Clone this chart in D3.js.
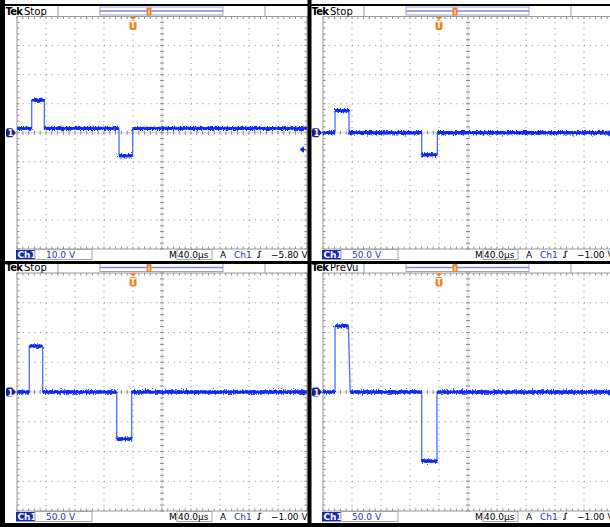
<!DOCTYPE html>
<html>
<head>
<meta charset="utf-8">
<script src="https://cdn.jsdelivr.net/npm/d3@7/dist/d3.min.js"></script>
<style>
body {margin:0; background:#fff;}
svg {display:block;}
text {font-family:"DejaVu Sans", sans-serif;}
</style>
</head>
<body>
<div id="chart-area"></div>
<script>

// scope settings of the four captures
var states = ["Stop", "Stop", "Stop", "PreVu"];
var voltsPerDiv = [10, 50, 50, 50];
var voltLabels = ["10.0 V", "50.0 V", "50.0 V", "50.0 V"];
var trigLevels = [-5.8, -1.0, -1.0, -1.0];
var trigLabels = ["\u22125.80 V", "\u22121.00 V", "\u22121.00 V", "\u22121.00 V"];
var timeLabel = "40.0\u00b5s";
var timeSpan = 400;     // 10 div x 40 us
var trigTime = 160;     // us from left edge of screen

// trace breakpoints, time in us from left edge, volts
var trace1T = [0, 20.3, 20.3, 37.7, 37.7, 140.7, 140.7, 159.6, 159.6, 400];
var trace1V = [1.5, 1.5, 11.2, 11.2, 1.5, 1.5, -7.9, -7.9, 1.5, 1.5];
var trace2T = [0, 16.6, 16.6, 35.9, 35.9, 136.1, 136.1, 157.7, 157.7, 400];
var trace2V = [0, 0, 38, 38, 0, 0, -38, -38, 0, 0];
var trace3T = [0, 17.0, 17.0, 35.4, 35.4, 137.5, 137.5, 158.2, 158.2, 400];
var trace3V = [0, 0, 77, 77, 0, 0, -79, -79, 0, 0];
var trace4T = [0, 16.6, 16.6, 35.0, 37.5, 136.1, 136.1, 157.2, 157.2, 400];
var trace4V = [0, 0, 111, 111, 0, 0, -116, -116, 0, 0];
var traceT = [trace1T, trace2T, trace3T, trace4T];
var traceV = [trace1V, trace2V, trace3V, trace4V];

// where each screen sits in the picture
var layout = [
	{left: 17, top: 16.5, bottom: 249},
	{left: 323, top: 16.5, bottom: 249},
	{left: 17, top: 273, bottom: 511},
	{left: 323, top: 273, bottom: 511}
];

var width = 610, height = 527;

var svg = d3.select("#chart-area").append("svg")
	.attr("width", width)
	.attr("height", height);

var defs = svg.append("defs");
var fuzz = defs.append("filter")
	.attr("id", "fuzz")
	.attr("filterUnits", "userSpaceOnUse")
	.attr("x", 0).attr("y", 0)
	.attr("width", width).attr("height", height);
fuzz.append("feTurbulence")
	.attr("type", "fractalNoise")
	.attr("baseFrequency", "1.1 0.5")
	.attr("numOctaves", 2)
	.attr("seed", 4)
	.attr("result", "n");
fuzz.append("feDisplacementMap")
	.attr("in", "SourceGraphic")
	.attr("in2", "n")
	.attr("scale", 6)
	.attr("xChannelSelector", "R")
	.attr("yChannelSelector", "G");

for (var i = 0; i < 4; i++) {
	drawPanel(i);
}

// black frame between the captures
var black = svg.append("g").attr("fill", "#000");
black.append("rect").attr("x", 0).attr("y", 0).attr("width", 5).attr("height", height);
black.append("rect").attr("x", 0).attr("y", 4).attr("width", width).attr("height", 2);
black.append("rect").attr("x", 307.5).attr("y", 0).attr("width", 4).attr("height", height);
black.append("rect").attr("x", 0).attr("y", 261).attr("width", width).attr("height", 3);
black.append("rect").attr("x", 0).attr("y", 523).attr("width", width).attr("height", 4);

function drawPanel(i) {
	var L = layout[i];
	var gx = L.left, gt = L.top, gb = L.bottom;
	var vd = voltsPerDiv[i];

	var x = d3.scaleLinear().domain([0, timeSpan]).range([gx, gx + 290]);
	var y = d3.scaleLinear().domain([-4 * vd, 4 * vd]).range([gb, gt]);

	var g = svg.append("g");
	var gridColor = "#8a8a8a";

	var minorX = d3.range(0, timeSpan + 0.01, 8);
	var minorY = d3.range(-4 * vd, 4 * vd + 0.01, vd / 5);
	var majorX = d3.range(40, timeSpan, 40).filter(function(d) { return d != 200; });
	var majorY = d3.range(-3 * vd, 4 * vd, vd).filter(function(d) { return d != 0; });

	var stepX = x(8) - x(0);
	var stepY = y(0) - y(vd / 5);

	// dotted division lines
	g.selectAll(".vdot").data(majorX).enter().append("line")
		.attr("x1", function(d) { return x(d); })
		.attr("x2", function(d) { return x(d); })
		.attr("y1", gt).attr("y2", gb)
		.attr("stroke", gridColor)
		.attr("stroke-dasharray", "1," + (stepY - 1));
	g.selectAll(".hdot").data(majorY).enter().append("line")
		.attr("y1", function(d) { return y(d); })
		.attr("y2", function(d) { return y(d); })
		.attr("x1", gx).attr("x2", gx + 290)
		.attr("stroke", gridColor)
		.attr("stroke-dasharray", "1," + (stepX - 1));

	// center axes
	g.append("line")
		.attr("x1", x(200)).attr("x2", x(200)).attr("y1", gt).attr("y2", gb)
		.attr("stroke", "#cfcfcf");
	g.append("line")
		.attr("x1", gx).attr("x2", gx + 290).attr("y1", y(0)).attr("y2", y(0))
		.attr("stroke", "#cfcfcf");
	g.selectAll(".cxt").data(minorX).enter().append("line")
		.attr("x1", function(d) { return x(d); })
		.attr("x2", function(d) { return x(d); })
		.attr("y1", y(0) - 2).attr("y2", y(0) + 2)
		.attr("stroke", gridColor);
	g.selectAll(".cyt").data(minorY).enter().append("line")
		.attr("y1", function(d) { return y(d); })
		.attr("y2", function(d) { return y(d); })
		.attr("x1", x(200) - 2).attr("x2", x(200) + 2)
		.attr("stroke", gridColor);

	// border ticks
	g.selectAll(".tt").data(minorX).enter().append("line")
		.attr("x1", function(d) { return x(d); })
		.attr("x2", function(d) { return x(d); })
		.attr("y1", gt).attr("y2", gt + 2.5)
		.attr("stroke", gridColor);
	g.selectAll(".bt").data(minorX).enter().append("line")
		.attr("x1", function(d) { return x(d); })
		.attr("x2", function(d) { return x(d); })
		.attr("y1", gb).attr("y2", gb - 2.5)
		.attr("stroke", gridColor);
	g.selectAll(".lt").data(minorY).enter().append("line")
		.attr("y1", function(d) { return y(d); })
		.attr("y2", function(d) { return y(d); })
		.attr("x1", gx).attr("x2", gx + 2.5)
		.attr("stroke", gridColor);
	g.selectAll(".rt").data(minorY).enter().append("line")
		.attr("y1", function(d) { return y(d); })
		.attr("y2", function(d) { return y(d); })
		.attr("x1", gx + 290).attr("x2", gx + 287.5)
		.attr("stroke", gridColor);

	g.append("rect")
		.attr("x", gx).attr("y", gt)
		.attr("width", 290).attr("height", gb - gt)
		.attr("fill", "none")
		.attr("stroke", "#9a9a9a");

	// trace: fast edges thin, flat parts thick and noisy
	var pts = traceT[i].map(function(t, k) { return [t, traceV[i][k]]; });
	var edges = [], flats = [];
	for (var k = 0; k < pts.length - 1; k++) {
		if (pts[k][1] == pts[k + 1][1]) flats.push([pts[k], pts[k + 1]]);
		else edges.push([pts[k], pts[k + 1]]);
	}
	var line = d3.line()
		.x(function(d) { return x(d[0]); })
		.y(function(d) { return y(d[1]); });

	g.selectAll(".edge").data(edges).enter().append("path")
		.attr("d", line)
		.attr("fill", "none")
		.attr("stroke", "#4d6bff")
		.attr("stroke-width", 1.3);
	g.selectAll(".flat").data(flats).enter().append("path")
		.attr("d", line)
		.attr("fill", "none")
		.attr("stroke", "#0a2af2")
		.attr("stroke-width", 2.4);
	g.append("g").attr("filter", "url(#fuzz)")
		.selectAll(".fuzz").data(flats).enter().append("path")
		.attr("d", line)
		.attr("fill", "none")
		.attr("stroke", "#0a2af2")
		.attr("stroke-width", 3.4);

	// trigger level arrow
	var ty = y(trigLevels[i]);
	g.append("path")
		.attr("d", "M" + (gx + 283) + "," + ty + "l3.5,-2.5v5z M" + (gx + 286) + "," + ty + "h3")
		.attr("fill", "#1030e0")
		.attr("stroke", "#1030e0")
		.attr("stroke-width", 1);

	// ground marker
	var gy = y(0);
	g.append("path")
		.attr("d", "M" + (gx - 9) + "," + (gy - 4.5) + "h4l4,4.5l-4,4.5h-4a2,2 0 0 1 -2,-2v-5a2,2 0 0 1 2,-2z")
		.attr("fill", "#1c1c8e");
	g.append("text")
		.attr("x", gx - 6.5).attr("y", gy + 3.5)
		.attr("text-anchor", "middle")
		.attr("font-size", 8).attr("font-weight", "bold")
		.attr("fill", "#fff")
		.text("1");

	// trigger position marker
	var tx = x(trigTime);
	var orange = "#f2821e";
	g.append("path")
		.attr("d", "M" + (tx - 3.5) + "," + (gt + 0.5) + "h7l-3.5,3z")
		.attr("fill", orange);
	g.append("rect")
		.attr("x", tx - 3.5).attr("y", gt + 4)
		.attr("width", 7).attr("height", 9.5).attr("rx", 2)
		.attr("fill", orange);
	g.append("text")
		.attr("x", tx).attr("y", gt + 11.8)
		.attr("text-anchor", "middle")
		.attr("font-size", 8).attr("font-weight", "bold")
		.attr("fill", "#fff")
		.text("T");

	// header row
	var ht = gt - 10.5;
	g.append("text")
		.attr("x", gx - 11.5).attr("y", gt - 2)
		.attr("font-family", "Liberation Sans")
		.attr("font-size", 10).attr("font-weight", "bold")
		.attr("letter-spacing", -0.8)
		.attr("fill", "#000")
		.text("Tek");
	g.append("text")
		.attr("x", gx + 7).attr("y", gt - 2)
		.attr("font-size", 10)
		.attr("fill", "#000")
		.text(states[i]);
	[gx + 41, gx + 248].forEach(function(sx) {
		g.append("line")
			.attr("x1", sx).attr("x2", sx).attr("y1", ht).attr("y2", gt)
			.attr("stroke", "#9a9a9a");
	});
	g.append("rect")
		.attr("x", gx + 83).attr("y", ht + 1)
		.attr("width", 123).attr("height", 8)
		.attr("fill", "none")
		.attr("stroke", "#a0a0c8");
	g.append("line")
		.attr("x1", gx + 83).attr("x2", gx + 206)
		.attr("y1", ht + 5).attr("y2", ht + 5)
		.attr("stroke", "#8585dc").attr("stroke-width", 1.6);
	g.append("rect")
		.attr("x", gx + 129.5).attr("y", ht + 1.5)
		.attr("width", 5).attr("height", 8).attr("rx", 1)
		.attr("fill", orange);
	g.append("line")
		.attr("x1", gx + 132).attr("x2", gx + 132)
		.attr("y1", ht + 4).attr("y2", ht + 8.5)
		.attr("stroke", "#fff");

	// status row
	var base = gb + 8.8;
	g.append("rect")
		.attr("x", gx - 1).attr("y", gb + 1)
		.attr("width", 19).attr("height", 9.5)
		.attr("fill", "#1a2aa6");
	g.append("text")
		.attr("x", gx + 0.5).attr("y", base)
		.attr("font-size", 9).attr("font-weight", "bold")
		.attr("fill", "#fff")
		.text("Ch1");
	g.append("rect")
		.attr("x", gx + 18).attr("y", gb + 0.5)
		.attr("width", 57).attr("height", 10)
		.attr("fill", "none")
		.attr("stroke", "#a5a5a5");
	g.append("text")
		.attr("x", gx + 29).attr("y", base)
		.attr("font-size", 9)
		.attr("fill", "#1a34c0")
		.text(voltLabels[i]);
	g.append("text")
		.attr("x", gx + 152).attr("y", base)
		.attr("font-size", 9)
		.attr("fill", "#000")
		.text("M");
	g.append("rect")
		.attr("x", gx + 160).attr("y", gb + 0.5)
		.attr("width", 35).attr("height", 10)
		.attr("fill", "none")
		.attr("stroke", "#a5a5a5");
	g.append("text")
		.attr("x", gx + 161).attr("y", base)
		.attr("font-size", 9)
		.attr("fill", "#000")
		.text(timeLabel);
	g.append("text")
		.attr("x", gx + 203).attr("y", base)
		.attr("font-size", 9)
		.attr("fill", "#000")
		.text("A");
	g.append("text")
		.attr("x", gx + 217).attr("y", base)
		.attr("font-size", 9)
		.attr("fill", "#1a34c0")
		.text("Ch1");
	g.append("path")
		.attr("d", "M" + (gx + 240) + "," + (base - 0.5) + "h2.2v-6h2.2")
		.attr("fill", "none")
		.attr("stroke", "#000")
		.attr("stroke-width", 1);
	g.append("text")
		.attr("x", gx + 254).attr("y", base)
		.attr("font-size", 9)
		.attr("fill", "#000")
		.text(trigLabels[i]);
}
</script>
</body>
</html>
